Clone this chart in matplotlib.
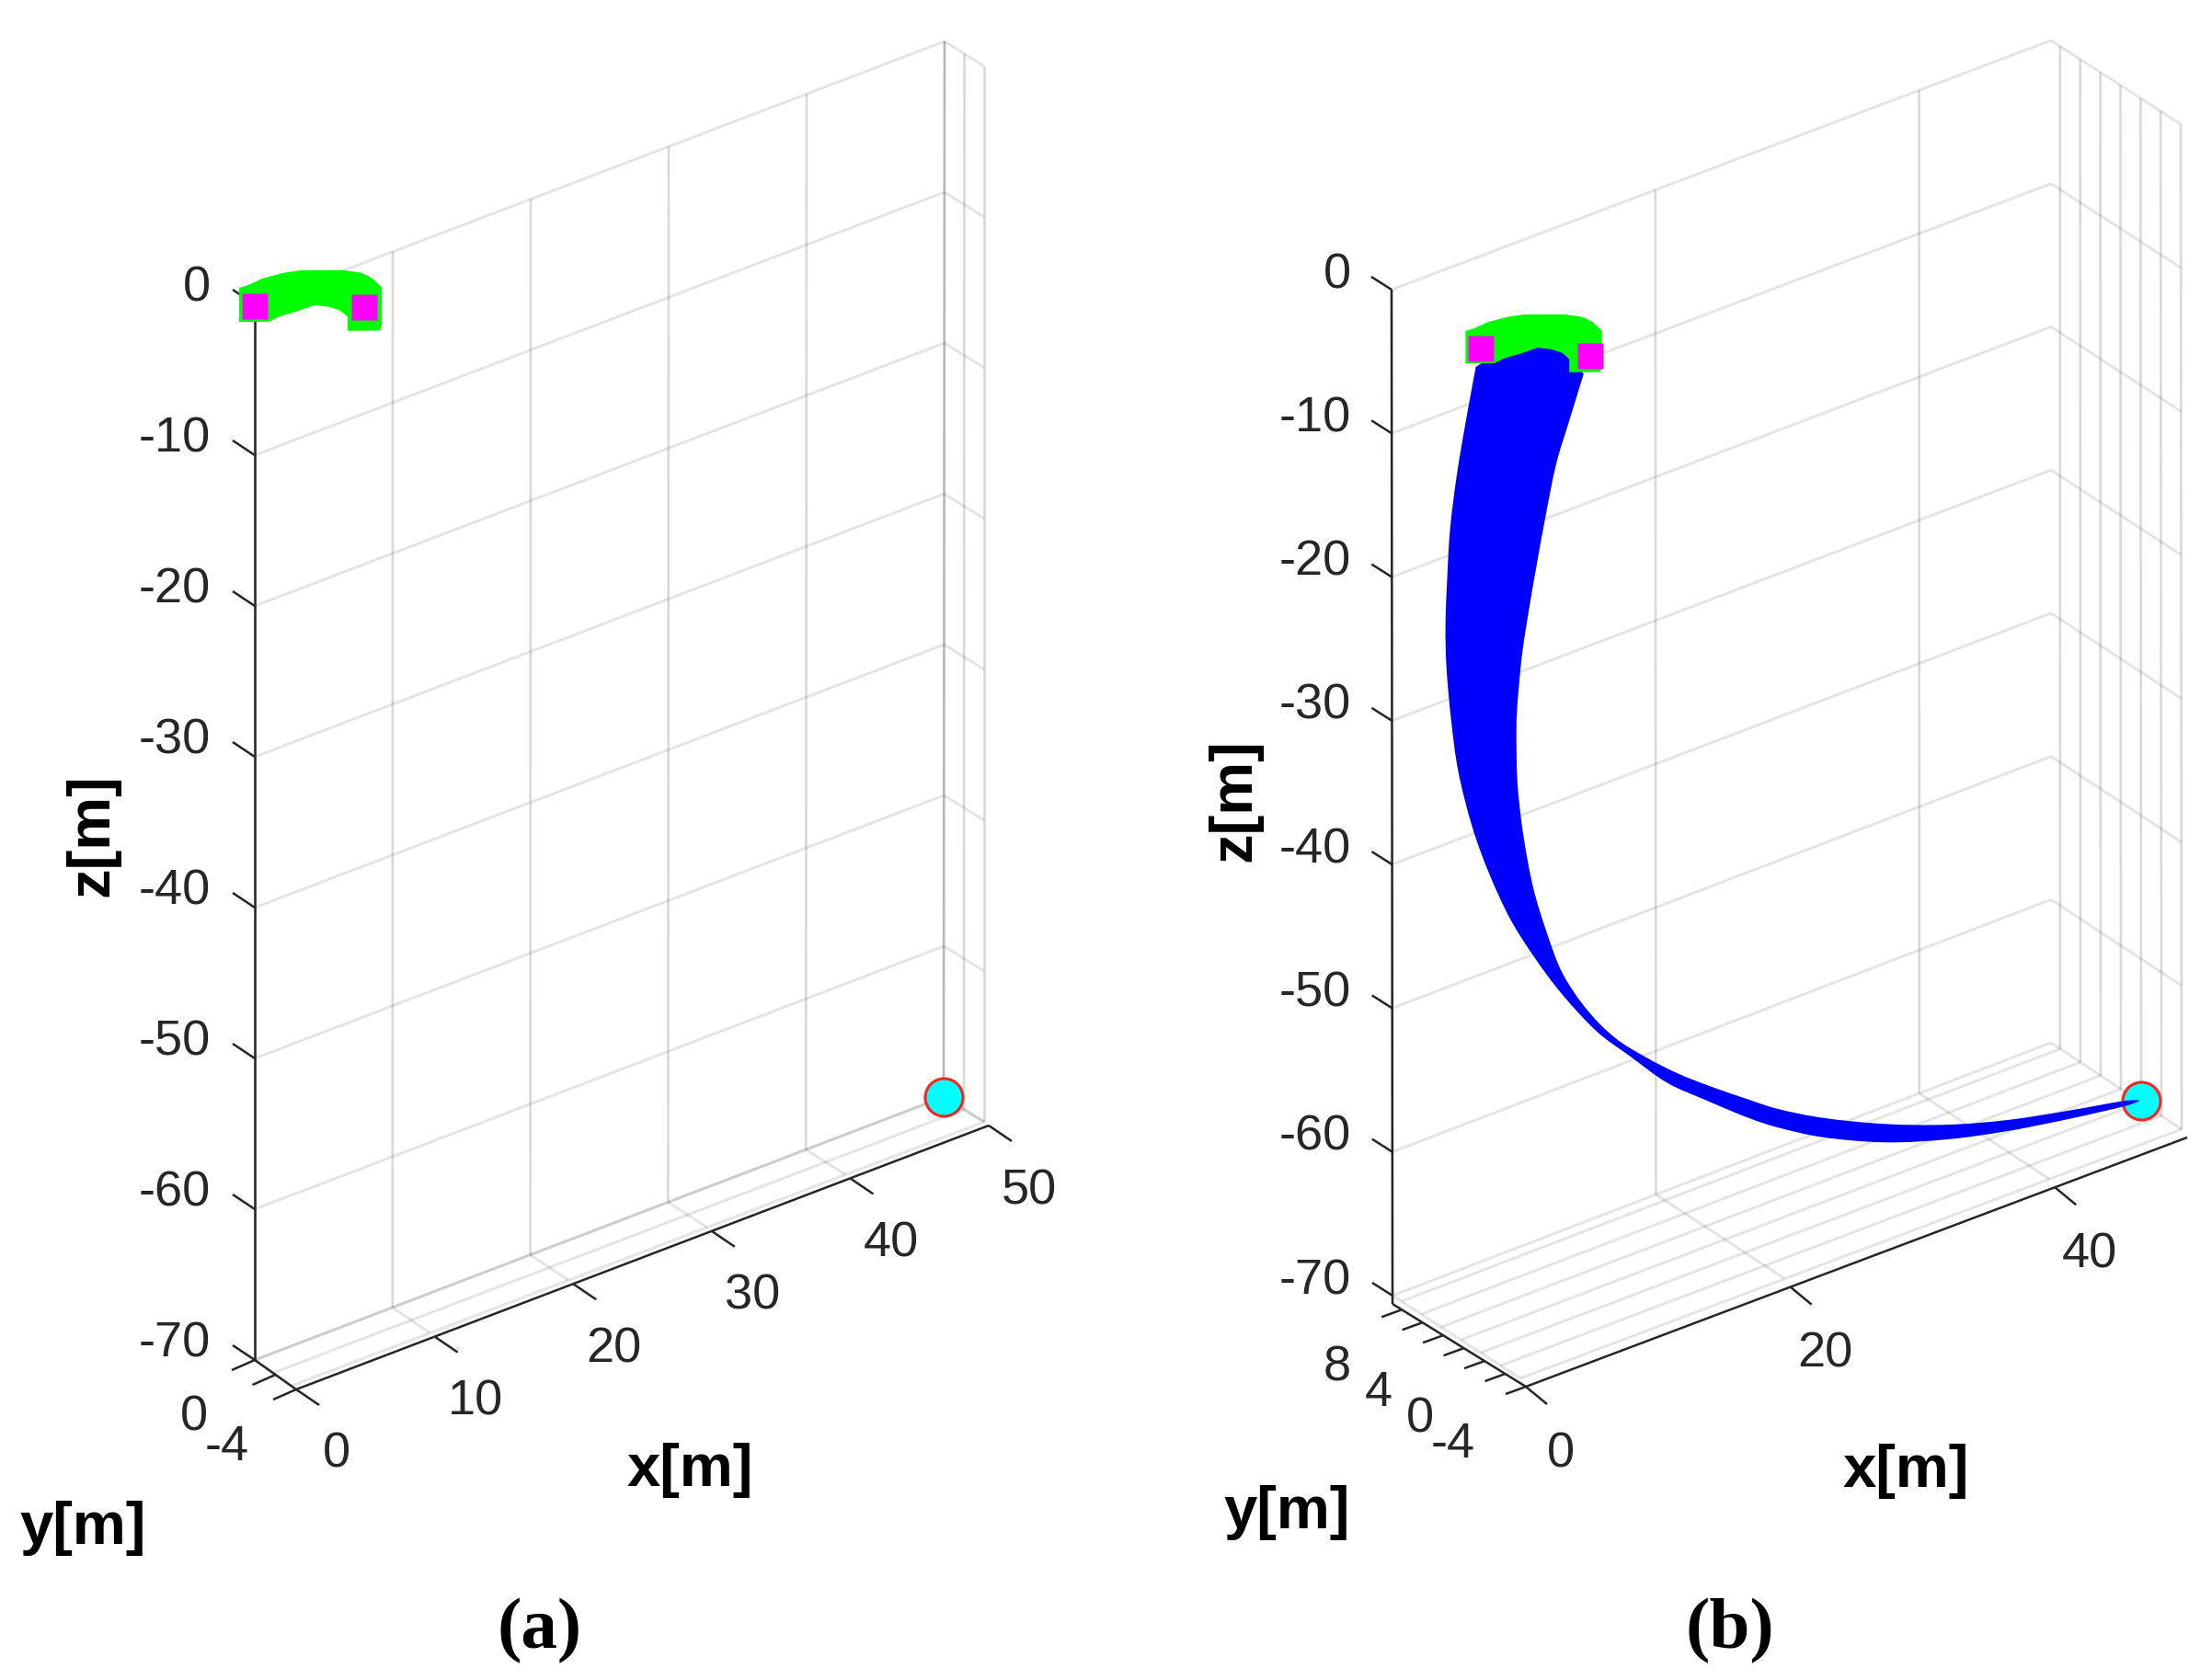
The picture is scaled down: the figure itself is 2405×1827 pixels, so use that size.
import matplotlib
matplotlib.use("Agg")
import matplotlib.pyplot as plt
from matplotlib.path import Path
from matplotlib.patches import PathPatch
import numpy as np

W, H = 2405, 1827

# ------------------ data (metres) ------------------
z_ticks = [0, -10, -20, -30, -40, -50, -60, -70]

a_x_ticks = [0, 10, 20, 30, 40, 50]
a_y_ticks = [-4, -2, 0]
a_y_labels = [-4, 0]
b_x_ticks = [0, 20, 40]
b_y_ticks = [-4, -2, 0, 2, 4, 6, 8]
b_y_labels = [-4, 0, 4, 8]

# outline of the green band (plane y = 0)
green_x = [-1.13, -0.47, 0.53, 2.0, 3.33, 6.4, 7.73, 8.53, 9.2, 9.2, 9.07, 6.73, 6.73,
           6.2, 5.4, 4.33, 3.4, 1.67, 1.07, -1.13]
green_z = [1.49, 1.44, 1.52, 1.38, 1.10, 0.04, -0.6, -1.25, -2.07, -4.6, -4.9, -4.1, -3.18,
           -2.57, -2.05, -1.56, -1.54, -1.43, -1.52, -0.77]

# the two magenta anchors and the cyan point
anchor_x = [0.0, 5.27]
anchor_y = [0.0, -4.0]
a_anchor_z = [-0.1, -0.3]
b_anchor_z = [-0.1, -0.7]
a_end = (50.0, 0.0, -70.0)
b_end = (50.0, 0.0, -69.9)

# blue band in (b), plane y = 0
blue_left_x = [-0.35, -1.12, -1.82, -2.30, -2.51, -2.65, -2.58, -2.23, -1.68, -0.63, 0.63, 2.23,
               4.12, 6.21, 8.80, 11.31, 14.11, 17.04, 20.18, 22.49, 25.98, 30.66, 35.34, 39.94,
               44.62, 48.60, 49.86]
blue_left_z = [-1.29, -4.86, -8.47, -11.89, -15.02, -18.42, -21.39, -25.16, -29.0, -33.19, -36.83,
               -40.57, -43.98, -47.26, -50.71, -53.30, -56.12, -58.35, -60.65, -62.15, -64.06,
               -66.04, -67.46, -68.48, -69.26, -69.81, -69.86]
blue_right_x = [7.82, 6.70, 5.73, 4.92, 4.33, 3.77, 3.17, 2.83, 2.72, 2.79, 3.21, 3.98, 5.03, 6.22,
                8.10, 10.20, 12.50, 14.80, 17.18, 20.18, 22.49, 25.98, 30.66, 35.34, 39.94, 44.62,
                48.60, 49.86]
blue_right_z = [-4.59, -7.54, -10.16, -13.54, -16.31, -19.04, -22.36, -25.44, -27.53, -31.22,
                -34.91, -39.0, -42.56, -45.79, -49.0, -51.65, -53.78, -55.66, -57.37, -59.37,
                -60.86, -62.71, -64.76, -66.44, -67.71, -68.68, -69.42, -69.80]
blue_top_x = [4.3]
blue_top_z = [0.0]

# ------------------ layout ------------------
TXT = "#262626"
AX = "#262626"
plt.rcParams["font.family"] = ["Liberation Sans", "DejaVu Sans"]
fig = plt.figure(figsize=(W / 100, H / 100), dpi=100)
ax = fig.add_axes([0, 0, 1, 1])
ax.set_xlim(0, W)
ax.set_ylim(H, 0)
ax.axis("off")


def make_proj(xlim, ylim, zlim, top, bot):
    """Trilinear map of the box; top/bot list corners as
    (x0,yback), (x1,yback), (x1,yfront), (x0,yfront)."""
    top = np.array(top, float)
    bot = np.array(bot, float)

    def proj(x, y, z):
        x, y, z = np.asarray(x, float), np.asarray(y, float), np.asarray(z, float)
        u = (x - xlim[0]) / (xlim[1] - xlim[0])
        v = (ylim[1] - y) / (ylim[1] - ylim[0])
        w = (zlim[1] - z) / (zlim[1] - zlim[0])
        res = []
        for k in range(2):
            t = (1-u)*(1-v)*top[0, k] + u*(1-v)*top[1, k] + u*v*top[2, k] + (1-u)*v*top[3, k]
            b = (1-u)*(1-v)*bot[0, k] + u*(1-v)*bot[1, k] + u*v*bot[2, k] + (1-u)*v*bot[3, k]
            res.append(t + (b - t) * w)
        return res[0], res[1]
    return proj


def grid(p, x0, x1, y0, y1, z0, z1):
    vertical = x0 == x1 and y0 == y1
    ax.plot(*p([x0, x1], [y0, y1], [z0, z1]), color="k", alpha=0.15 if vertical else 0.10,
            lw=1.9 if vertical else 2.2, solid_capstyle="butt", zorder=1)


def panel(xlim, ylim, zlim, top, bot, xt, yt, yl, off_start, off_end, xtick_v, ytick_v, ztick_v,
          zl_x, zl_dy, xl_off, yl_off, xlabel_pos, ylabel_pos, zlabel_pos, cap_pos, cap):
    p = make_proj(xlim, ylim, zlim, top, bot)
    for v in xt:
        grid(p, v, v, ylim[1], ylim[1], zlim[0], zlim[1])
        grid(p, v, v, ylim[0], ylim[1], zlim[0], zlim[0])
    for v in yt:
        grid(p, xlim[1], xlim[1], v, v, zlim[0], zlim[1])
        grid(p, xlim[0], xlim[1], v, v, zlim[0], zlim[0])
    for v in z_ticks:
        grid(p, xlim[0], xlim[1], ylim[1], ylim[1], v, v)
        grid(p, xlim[1], xlim[1], ylim[0], ylim[1], v, v)

    lkw = dict(color=AX, lw=1.8, solid_capstyle="butt", zorder=2)
    # z axis
    zx, zy = p(xlim[0], ylim[1], np.array(z_ticks, float))
    ax.plot([zx[0], zx[-1] + off_start[0]], [zy[0], zy[-1] + off_start[1]], **lkw)
    for tx, ty, v in zip(zx, zy, z_ticks):
        ax.plot([tx, tx + ztick_v[0]], [ty, ty + ztick_v[1]], **lkw)
        ax.text(zl_x, ty + zl_dy, str(v), ha="right", va="center", fontsize=39, color=TXT)

    # y axis (the ruler sits slightly off the floor grid)
    def y_pt(v):
        t = (ylim[1] - v) / (ylim[1] - ylim[0])
        px, py = p(xlim[0], v, zlim[0])
        return (px + off_start[0] + (off_end[0] - off_start[0]) * t,
                py + off_start[1] + (off_end[1] - off_start[1]) * t)
    a0, a1 = y_pt(ylim[1]), y_pt(ylim[0])
    ax.plot([a0[0], a1[0]], [a0[1], a1[1]], **lkw)
    for v in yt:
        tx, ty = y_pt(v)
        ax.plot([tx, tx + ytick_v[0]], [ty, ty + ytick_v[1]], **lkw)
    for v in yl:
        tx, ty = y_pt(v)
        ax.text(tx + yl_off[0], ty + yl_off[1], str(v), ha="right", va="center", fontsize=39, color=TXT)

    # x axis
    def x_pt(v):
        px, py = p(v, ylim[0], zlim[0])
        return px + off_end[0], py + off_end[1]
    b0, b1 = x_pt(xlim[0]), x_pt(xlim[1])
    ax.plot([b0[0], b1[0]], [b0[1], b1[1]], **lkw)
    for v in xt:
        tx, ty = x_pt(v)
        ax.plot([tx, tx + xtick_v[0]], [ty, ty + xtick_v[1]], **lkw)
        ax.text(tx + xl_off[0], ty + xl_off[1], str(v), ha="center", va="center", fontsize=39, color=TXT)

    lab = dict(ha="center", va="center", fontsize=47, fontweight="bold", color="black")
    ax.text(*xlabel_pos, "x[m]", **lab)
    ax.text(*ylabel_pos, "y[m]", **lab)
    ax.text(*zlabel_pos, "z[m]", rotation=90, **lab)
    ax.text(*cap_pos, cap, ha="center", va="center", fontsize=57, fontweight="bold",
            family="Liberation Serif", color="black")
    return p


def draw_end(p, end):
    ax.plot(*p([end[0]], [end[1]], [end[2]]), "o", ms=29.5, mfc="#00ffff", mec="#ff2020", mew=2.2, zorder=3)


def draw_green(p, anchor_z):
    gx, gy = p(green_x, np.zeros(len(green_x)), green_z)
    ax.fill(gx, gy, color="#00ff00", lw=0, zorder=5)
    mx, my = p(anchor_x, anchor_y, anchor_z)
    ax.plot(mx, my, "s", ms=20.2, mfc="#ff00ff", mec="none", zorder=6)


def bezier_segments(px, py):
    """Cubic segments through the read points, for Path's CURVE4."""
    pts = np.column_stack([px, py])
    verts, codes = [], []
    for i in range(len(pts) - 1):
        p0 = pts[max(i - 1, 0)]
        p1 = pts[i]
        p2 = pts[i + 1]
        p3 = pts[min(i + 2, len(pts) - 1)]
        verts += [p1 + (p2 - p0) / 6, p2 - (p3 - p1) / 6, p2]
        codes += [Path.CURVE4] * 3
    return verts, codes


# ---------- panel (a) ----------
pa = panel((0, 50), (-4, 0), (-70, 0),
           [(277, 331), (1027, 45), (1070, 72), (317, 359)],
           [(277, 1479), (1026, 1193), (1070, 1220), (317, 1507)],
           a_x_ticks, a_y_ticks, a_y_labels, (0, 0), (5, 4),
           (25, 17), (-25, 11), (-24, -16),
           229, -17, (44, 71), (-51, 63),
           (750, 1599), (90, 1662), (100, 908), (587, 1774), "(a)")
draw_end(pa, a_end)
draw_green(pa, a_anchor_z)

# ---------- panel (b) ----------
pb = panel((0, 50), (-4, 8.9), (-70, 0),
           [(1513, 315), (2230, 44), (2371, 135), (1653, 405)],
           [(1514, 1409), (2230, 1134), (2372, 1228), (1653, 1499)],
           b_x_ticks, b_y_ticks, b_y_labels, (0, 9), (6, 9),
           (23, 19), (-22, 8), (-22, -14),
           1469, -16, (38, 73), (-55, 63),
           (2072, 1600), (1399, 1645), (1342, 870), (1881, 1774), "(b)")
draw_end(pb, b_end)

lx, ly = pb(blue_left_x, np.zeros(len(blue_left_x)), blue_left_z)
rx, ry = pb(blue_right_x[::-1], np.zeros(len(blue_right_x)), blue_right_z[::-1])
tx, ty = pb(blue_top_x, np.zeros(len(blue_top_x)), blue_top_z)
verts = [(lx[0], ly[0])]
codes = [Path.MOVETO]
v1, c1 = bezier_segments(lx, ly)
verts += v1
codes += c1
verts.append((rx[0], ry[0]))
codes.append(Path.LINETO)
v2, c2 = bezier_segments(rx, ry)
verts += v2
codes += c2
for a, b in zip(tx, ty):
    verts.append((a, b))
    codes.append(Path.LINETO)
verts.append((lx[0], ly[0]))
codes.append(Path.CLOSEPOLY)
ax.add_patch(PathPatch(Path(np.array(verts, float), codes), facecolor="#0000ff", edgecolor="none", lw=0, zorder=4))
draw_green(pb, b_anchor_z)

fig.savefig("out.png", dpi=100, facecolor="white")
